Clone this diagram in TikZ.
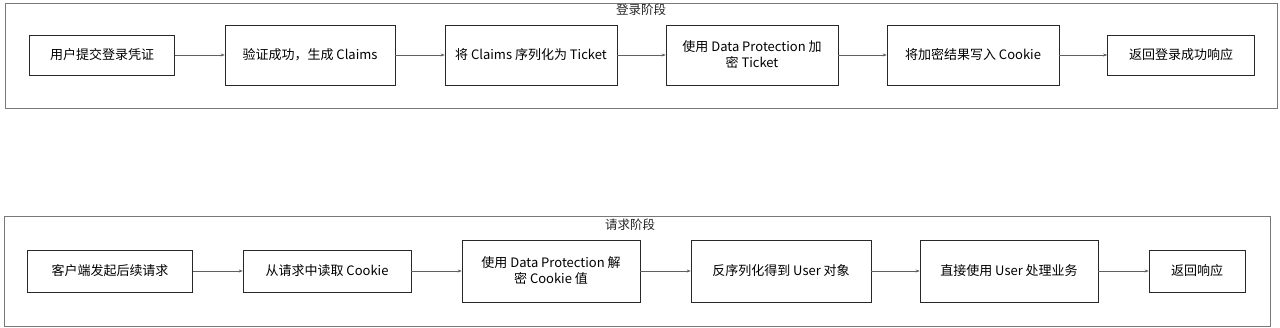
\documentclass[tikz,border=0pt]{standalone}
\usepackage{fontspec}
\setmainfont{Noto Sans CJK SC}
\usetikzlibrary{positioning, arrows.meta}
\definecolor{sketchline}{RGB}{40, 40, 40}
\definecolor{framegray}{RGB}{120, 120, 120}

\begin{document}
\begin{tikzpicture}[x=1pt, y=-1pt,
                stagebox/.style={draw=framegray, line width=0.9pt, fill=white},
                stepbox/.style={draw=sketchline, line width=0.6pt, fill=white,
                    align=center, inner sep=2pt, font=\fontsize{13}{16}\selectfont},
                flow/.style={draw=framegray!80!black, line width=0.5pt,
                    -{Stealth[length=4pt, width=3pt]}},
                title/.style={font=\fontsize{12.5}{14}\selectfont, text=black!85}
            ]
            \useasboundingbox (0, 0) rectangle (1280, 328);

            \draw[stagebox] (5, 3) rectangle (1277, 108);
            \node[title] (logintitle) at (641, 10) {登录阶段};

            \node[stepbox, minimum width=145, minimum height=40] (submit) at (102, 55) {用户提交登录凭证};
            \node[stepbox, minimum width=170, minimum height=60] (claims) at (310, 55) {验证成功，生成 Claims};
            \node[stepbox, minimum width=172, minimum height=60] (ticket) at (531, 55) {将 Claims 序列化为 Ticket};
            \node[stepbox, minimum width=172, minimum height=60] (encrypt) at (752, 55) {使用 Data Protection 加\\密 Ticket};
            \node[stepbox, minimum width=172, minimum height=60] (writecookie) at (973, 55) {将加密结果写入 Cookie};
            \node[stepbox, minimum width=147, minimum height=40] (loginok) at (1181, 55) {返回登录成功响应};

            \draw[flow] (submit) -- (claims);
            \draw[flow] (claims) -- (ticket);
            \draw[flow] (ticket) -- (encrypt);
            \draw[flow] (encrypt) -- (writecookie);
            \draw[flow] (writecookie) -- (loginok);

            \draw[stagebox] (4, 216) rectangle (1270, 326);
            \node[title] (requesttitle) at (630, 225) {请求阶段};

            \node[stepbox, minimum width=165, minimum height=42] (client) at (110, 271) {客户端发起后续请求};
            \node[stepbox, minimum width=168, minimum height=42] (readcookie) at (327, 271) {从请求中读取 Cookie};
            \node[stepbox, minimum width=178, minimum height=62] (decrypt) at (551, 271) {使用 Data Protection 解\\密 Cookie 值};
            \node[stepbox, minimum width=180, minimum height=62] (user) at (781, 271) {反序列化得到 User 对象};
            \node[stepbox, minimum width=178, minimum height=62] (business) at (1009, 271) {直接使用 User 处理业务};
            \node[stepbox, minimum width=96, minimum height=42] (reply) at (1197, 271) {返回响应};

            \draw[flow] (client) -- (readcookie);
            \draw[flow] (readcookie) -- (decrypt);
            \draw[flow] (decrypt) -- (user);
            \draw[flow] (user) -- (business);
            \draw[flow] (business) -- (reply);

            \end{tikzpicture}
\end{document}
